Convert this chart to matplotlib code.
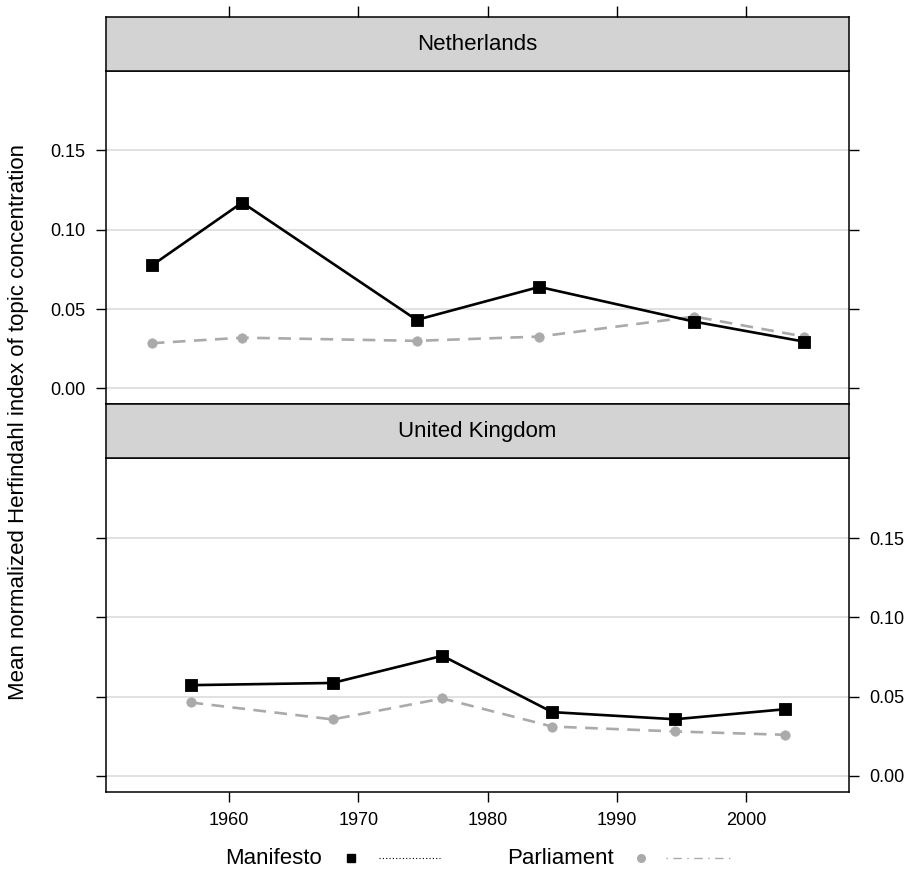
import matplotlib
matplotlib.use("Agg")
import matplotlib.pyplot as plt
from matplotlib.lines import Line2D

plt.rcParams['font.family'] = ['Liberation Sans', 'DejaVu Sans']

# Election years per country
nl_years = [1954.0, 1961.0, 1974.5, 1984.0, 1996.0, 2004.5]
uk_years = [1957.0, 1968.0, 1976.5, 1985.0, 1994.5, 2003.0]

# Mean normalized Herfindahl index
nl_manifesto = [0.0775, 0.1172, 0.0432, 0.0640, 0.0421, 0.0295]
nl_parliament = [0.0285, 0.0320, 0.0300, 0.0327, 0.0453, 0.0327]
uk_manifesto = [0.0572, 0.0586, 0.0757, 0.0402, 0.0357, 0.0420]
uk_parliament = [0.0463, 0.0356, 0.0488, 0.0311, 0.0280, 0.0259]

countries = ["Netherlands", "United Kingdom"]
y_ticks = [0.00, 0.05, 0.10, 0.15]
y_tick_labels = ["0.00", "0.05", "0.10", "0.15"]
x_ticks = [1960, 1970, 1980, 1990, 2000]
x_tick_labels = ["1960", "1970", "1980", "1990", "2000"]
series_names = ["Manifesto", "Parliament"]

W, H = 910, 871
XLIM = (1950.48, 2007.97)
YLIM = (-0.0100, 0.2003)
BLACK = "black"
GREY = "#AAAAAA"
STRIP = "#D3D3D3"
GRID = "#DCDCDC"
BIG = 16
SMALL = 13

fig = plt.figure(figsize=(W / 100, H / 100), dpi=100)


def box(x0, y_top, x1, y_bot):
    return [x0 / W, (H - y_bot) / H, (x1 - x0) / W, (y_bot - y_top) / H]


LEFT, RIGHT = 106.3, 849.0
panels = [
    (countries[0], (17.3, 70.7), (70.7, 404.3), nl_years, nl_manifesto, nl_parliament),
    (countries[1], (404.3, 458.3), (458.3, 791.7), uk_years, uk_manifesto, uk_parliament),
]

for i, (name, strip_y, plot_y, years, man, par) in enumerate(panels):
    ax = fig.add_axes(box(LEFT, plot_y[0], RIGHT, plot_y[1]))
    ax.set_xlim(*XLIM)
    ax.set_ylim(*YLIM)
    for y in y_ticks:
        ax.axhline(y, color=GRID, lw=1.2, zorder=0)
    ax.plot(years, par, color=GREY, lw=1.9, linestyle=(0, (4.8, 3.2)),
            marker="o", ms=6.8, mew=0.5, mec=GREY, mfc=GREY, zorder=2)
    ax.plot(years, man, color=BLACK, lw=1.9, marker="s", ms=8.0, mew=0.6,
            mec=BLACK, mfc=BLACK, zorder=3)
    for s in ax.spines.values():
        s.set_linewidth(1.1)
    ax.set_yticks(y_ticks)
    ax.set_yticklabels(y_tick_labels)
    ax.tick_params(axis="both", direction="out", length=7.3, width=1.0,
                   labelsize=SMALL, pad=7.5)
    if i == 0:
        ax.tick_params(axis="y", left=True, right=True,
                       labelleft=True, labelright=False)
        ax.tick_params(axis="x", bottom=False, top=False,
                       labelbottom=False, labeltop=False)
    else:
        ax.tick_params(axis="y", left=True, right=True,
                       labelleft=False, labelright=True)
        ax.set_xticks(x_ticks)
        ax.set_xticklabels(x_tick_labels)
        ax.tick_params(axis="x", bottom=True, top=False,
                       labelbottom=True, labeltop=False)

    sx = fig.add_axes(box(LEFT, strip_y[0], RIGHT, strip_y[1]))
    sx.set_facecolor(STRIP)
    sx.set_xlim(*XLIM)
    sx.set_ylim(0, 1)
    sx.set_yticks([])
    for s in sx.spines.values():
        s.set_linewidth(1.1)
    sx.text(0.5, 0.5, name, transform=sx.transAxes, ha="center",
            va="center", fontsize=BIG)
    if i == 0:
        sx.set_xticks(x_ticks)
        sx.tick_params(axis="x", bottom=False, top=True, labelbottom=False,
                       labeltop=False, direction="out", length=8, width=1.0)
    else:
        sx.set_xticks([])

fig.text(19 / W, 1 - 422 / H,
         "Mean normalized Herfindahl index of topic concentration",
         rotation=90, ha="center", va="center", fontsize=BIG)

# key below the panels
ky = 1 - 858 / H
fig.text(225 / W, ky, series_names[0], ha="left", va="center", fontsize=BIG)
fig.add_artist(Line2D([351 / W], [ky], marker="s", ms=5.5, color=BLACK,
                      transform=fig.transFigure))
fig.add_artist(Line2D([379 / W, 440 / W], [ky, ky], color=BLACK, lw=0.8,
                      linestyle=(0, (1, 2)), transform=fig.transFigure))
fig.text(507 / W, ky, series_names[1], ha="left", va="center", fontsize=BIG)
fig.add_artist(Line2D([641 / W], [ky], marker="o", ms=5.5, color=GREY,
                      transform=fig.transFigure))
fig.add_artist(Line2D([666 / W, 734 / W], [ky, ky], color=GREY, lw=1.0,
                      linestyle=(0, (1, 4, 6, 4)), transform=fig.transFigure))

fig.savefig("out.png", dpi=100)
